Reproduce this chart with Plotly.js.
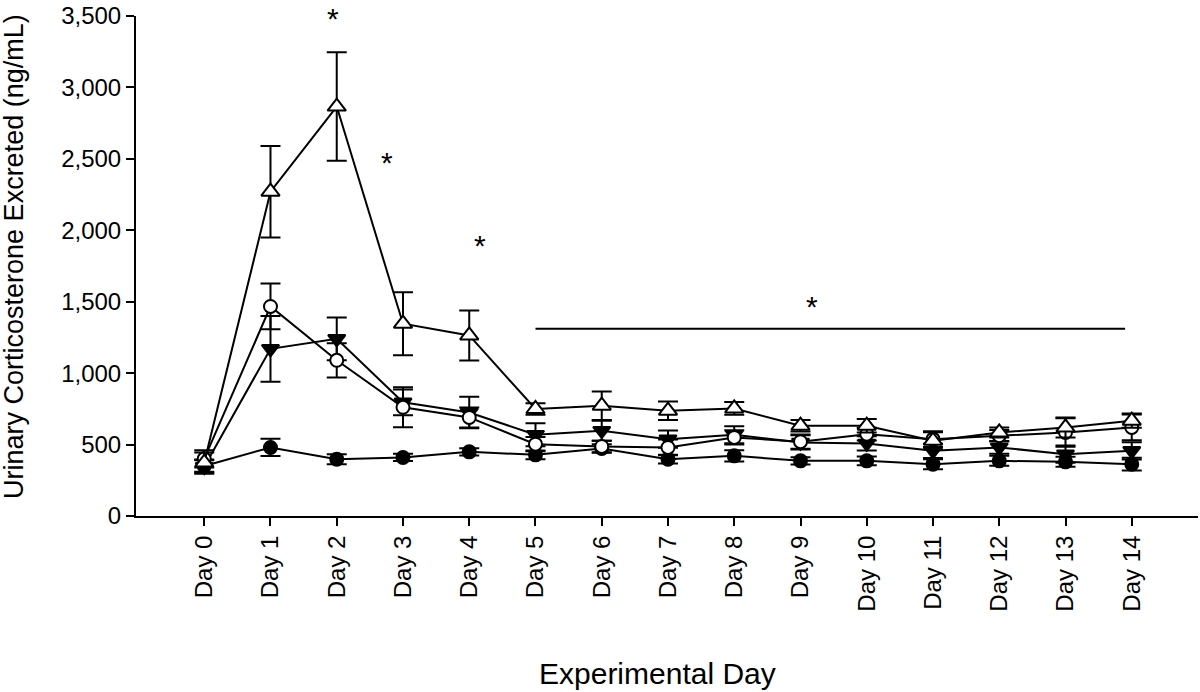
<!DOCTYPE html>
<html>
<head>
<meta charset="utf-8">
<script src="https://cdn.plot.ly/plotly-3.0.1.min.js"></script>
<style>html,body{margin:0;padding:0;background:#fff;}#chart{width:1200px;height:692px;}</style>
</head>
<body>
<div id="chart"></div>
<script>
const days = [0,1,2,3,4,5,6,7,8,9,10,11,12,13,14];
const dayLabels = ["Day 0","Day 1","Day 2","Day 3","Day 4","Day 5","Day 6","Day 7","Day 8","Day 9","Day 10","Day 11","Day 12","Day 13","Day 14"];

const openTri      = [374, 2270, 2866, 1346, 1264, 749, 772, 737, 753, 632, 632, 527, 585, 620, 667];
const openTriErr   = [70, 320, 380, 220, 175, 40, 100, 65, 45, 40, 47, 60, 35, 70, 50];
const openCirc     = [400, 1467, 1090, 761, 690, 503, 487, 480, 550, 520, 573, 538, 562, 585, 620];
const openCircErr  = [60, 160, 120, 140, 70, 50, 40, 55, 50, 50, 45, 55, 40, 100, 90];
const downTri      = [345, 1170, 1240, 796, 725, 569, 597, 538, 569, 515, 508, 456, 480, 433, 456];
const downTriErr   = [50, 230, 150, 90, 110, 80, 70, 60, 60, 50, 50, 50, 45, 60, 60];
const filledCirc   = [350, 480, 398, 410, 449, 428, 472, 398, 421, 386, 386, 363, 386, 379, 363];
const filledCircErr= [40, 60, 35, 25, 25, 30, 30, 30, 40, 25, 30, 35, 35, 35, 45];

const starX = [1.94, 2.76, 4.16, 9.17];
const starY = [3545, 2534, 1954, 1528];
const sigLineX = [5, 13.9];
const sigLineY = 1311;
const yRange = [0, 3500];

function series(y, err, symbol, size, fill) {
  return {
    x: days, y: y, type: 'scatter', mode: 'lines+markers', cliponaxis: false,
    line: {color: '#000', width: 2},
    marker: {symbol: symbol, size: size, color: fill, line: {color: '#000', width: 2}},
    error_y: {type: 'data', array: err, visible: true, color: '#000', thickness: 2, width: 10},
    showlegend: false, hoverinfo: 'skip'
  };
}

const data = [
  series(filledCirc, filledCircErr, 'circle', 13, '#000'),
  series(downTri, downTriErr, 'triangle-down', 15, '#000'),
  series(openCirc, openCircErr, 'circle', 13, '#fff'),
  series(openTri, openTriErr, 'triangle-up', 16, '#fff')
];

const FONT = 'Liberation Sans, Arial, sans-serif';
const annotations = starX.map((x, i) => ({
  x: x, y: (starY[i] - yRange[0]) / (yRange[1] - yRange[0]), xref: 'x', yref: 'paper', text: '*', showarrow: false,
  font: {family: FONT, size: 30, color: '#000'},
  yanchor: 'top', yshift: 10
}));
annotations.push({
  text: 'Urinary Corticosterone Excreted (ng/mL)', textangle: -90, showarrow: false,
  xref: 'paper', yref: 'paper', x: -0.1149, y: 0.52, xanchor: 'center', yanchor: 'middle',
  font: {family: FONT, size: 27, color: '#000'}
});
annotations.push({
  text: 'Experimental Day', showarrow: false,
  xref: 'paper', yref: 'paper', x: (657.5 - 136) / 1062, y: (516 - 673) / 500, xanchor: 'center', yanchor: 'middle',
  font: {family: FONT, size: 30, color: '#000'}
});

const layout = {
  width: 1200, height: 692,
  margin: {l: 136, r: 2, t: 16, b: 176},
  paper_bgcolor: '#fff', plot_bgcolor: '#fff',
  font: {family: FONT, color: '#000'},
  xaxis: {
    range: [-1.03, 15], tickvals: days, ticktext: dayLabels, tickangle: -90,
    showgrid: false, zeroline: false, showline: true, linecolor: '#000', linewidth: 2,
    ticks: 'outside', ticklen: 8, tickwidth: 2, tickcolor: '#000',
    tickfont: {size: 24}
  },
  yaxis: {
    range: yRange, tickvals: [0,500,1000,1500,2000,2500,3000,3500], tickformat: ',d',
    showgrid: false, zeroline: false, showline: true, linecolor: '#000', linewidth: 2,
    ticks: 'outside', ticklen: 8, tickwidth: 2, tickcolor: '#000',
    tickfont: {size: 24}
  },
  shapes: [{type: 'line', xref: 'x', yref: 'y', x0: sigLineX[0], x1: sigLineX[1], y0: sigLineY, y1: sigLineY, line: {color: '#000', width: 2}}],
  annotations: annotations
};

Plotly.newPlot('chart', data, layout, {displayModeBar: false, staticPlot: true});
</script>
</body>
</html>
